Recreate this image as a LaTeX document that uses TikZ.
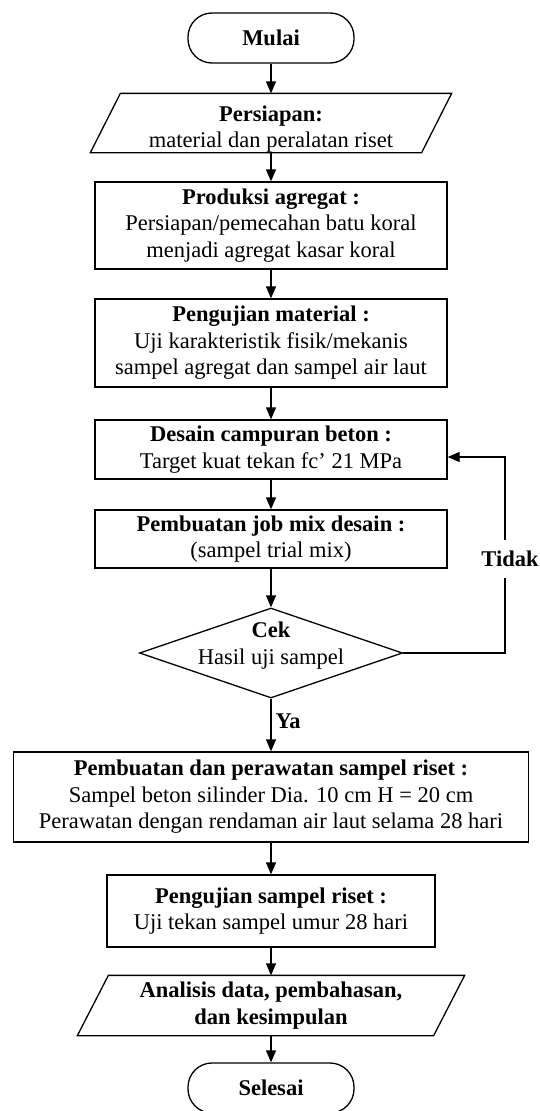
\documentclass[tikz,border=0pt]{standalone}
\usepackage{fontspec}
\setmainfont{Liberation Serif}
\usetikzlibrary{arrows.meta,shapes.geometric,calc}
\begin{document}
\begin{tikzpicture}[x=1pt,y=-1pt,line width=1.3pt,
  every node/.style={font=\fontsize{22.5}{26.5}\selectfont,align=center,inner sep=0pt},
  term/.style={draw,rectangle,rounded corners=24pt,minimum width=166pt,minimum height=50pt},
  procbox/.style={draw,rectangle,minimum width=352pt},
  slantbox/.style={rectangle,minimum height=58pt},
  decis/.style={diamond,draw,minimum width=263pt,minimum height=90pt},
  arr/.style={-{Triangle[length=12pt,width=10pt]}}]
\useasboundingbox (0,0) rectangle (539,1111);

\node[term] (start) at (271,38) {\textbf{Mulai}};
\node[slantbox,minimum width=330pt] (prep) at (271,123) {};
\node (preptxt) at (271,129) {\textbf{Persiapan:}\\material dan peralatan riset};
\draw ($(prep.north west)+(15,0)$) -- ($(prep.north east)+(15,0)$) -- ($(prep.south east)+(-15,0)$) -- ($(prep.south west)+(-15,0)$) -- cycle;

\node[procbox,minimum height=87pt] (prod) at (271,225.5) {\textbf{Produksi agregat :}\\Persiapan/pemecahan batu koral\\menjadi agregat kasar koral};
\node[procbox,minimum height=88pt] (uji) at (271,343) {\textbf{Pengujian material :}\\Uji karakteristik fisik/mekanis\\sampel agregat dan sampel air laut};
\node[procbox,minimum height=59pt] (desain) at (271,449.5) {\textbf{Desain campuran beton :}\\Target kuat tekan fc’ 21 MPa};
\node[procbox,minimum height=58pt] (job) at (271,539) {\textbf{Pembuatan job mix desain :}\\(sampel trial mix)};
\node[decis] (cek) at (271,653) {};
\node (cektxt) at (271,645.5) {\textbf{Cek}\\Hasil uji sampel};
\node[draw,rectangle,minimum width=515pt,minimum height=90pt] (buat) at (271,797) {\textbf{Pembuatan dan perawatan sampel riset :}\\Sampel beton silinder Dia. 10 cm H = 20 cm\\Perawatan dengan rendaman air laut selama 28 hari};
\node[draw,rectangle,minimum width=328pt,minimum height=72pt] (tekan) at (271,911) {\textbf{Pengujian sampel riset :}\\Uji tekan sampel umur 28 hari};
\node[slantbox,minimum width=355pt,minimum height=59pt] (anal) at (271,1005.5) {\textbf{Analisis data, pembahasan,}\\\textbf{dan kesimpulan}};
\draw ($(anal.north west)+(15.5,0)$) -- ($(anal.north east)+(15.5,0)$) -- ($(anal.south east)+(-15.5,0)$) -- ($(anal.south west)+(-15.5,0)$) -- cycle;
\node[term] (finish) at (271,1088) {\textbf{Selesai}};

\draw[arr] (start) -- (prep.north);
\draw[arr] (prep.south) -- (prod.north);
\draw[arr] (prod) -- (uji);
\draw[arr] (uji) -- (desain);
\draw[arr] (desain) -- (job);
\draw[arr] (job.south) -- (cek.north);
\draw[arr] (cek.south) -- (buat.north);
\draw[arr] (buat) -- (tekan);
\draw[arr] (tekan.south) -- (anal.north);
\draw[arr] (anal.south) -- (finish.north);

\coordinate (fb) at (505,457);
\draw[arr] (cek.east) -| (fb) -- (desain.east |- fb);
\node[fill=white,inner xsep=1pt,inner ysep=11pt] (tidak) at (510,559) {\textbf{Tidak}};
\node[anchor=west] (ya) at (275,721) {\textbf{Ya}};
\end{tikzpicture}
\end{document}
